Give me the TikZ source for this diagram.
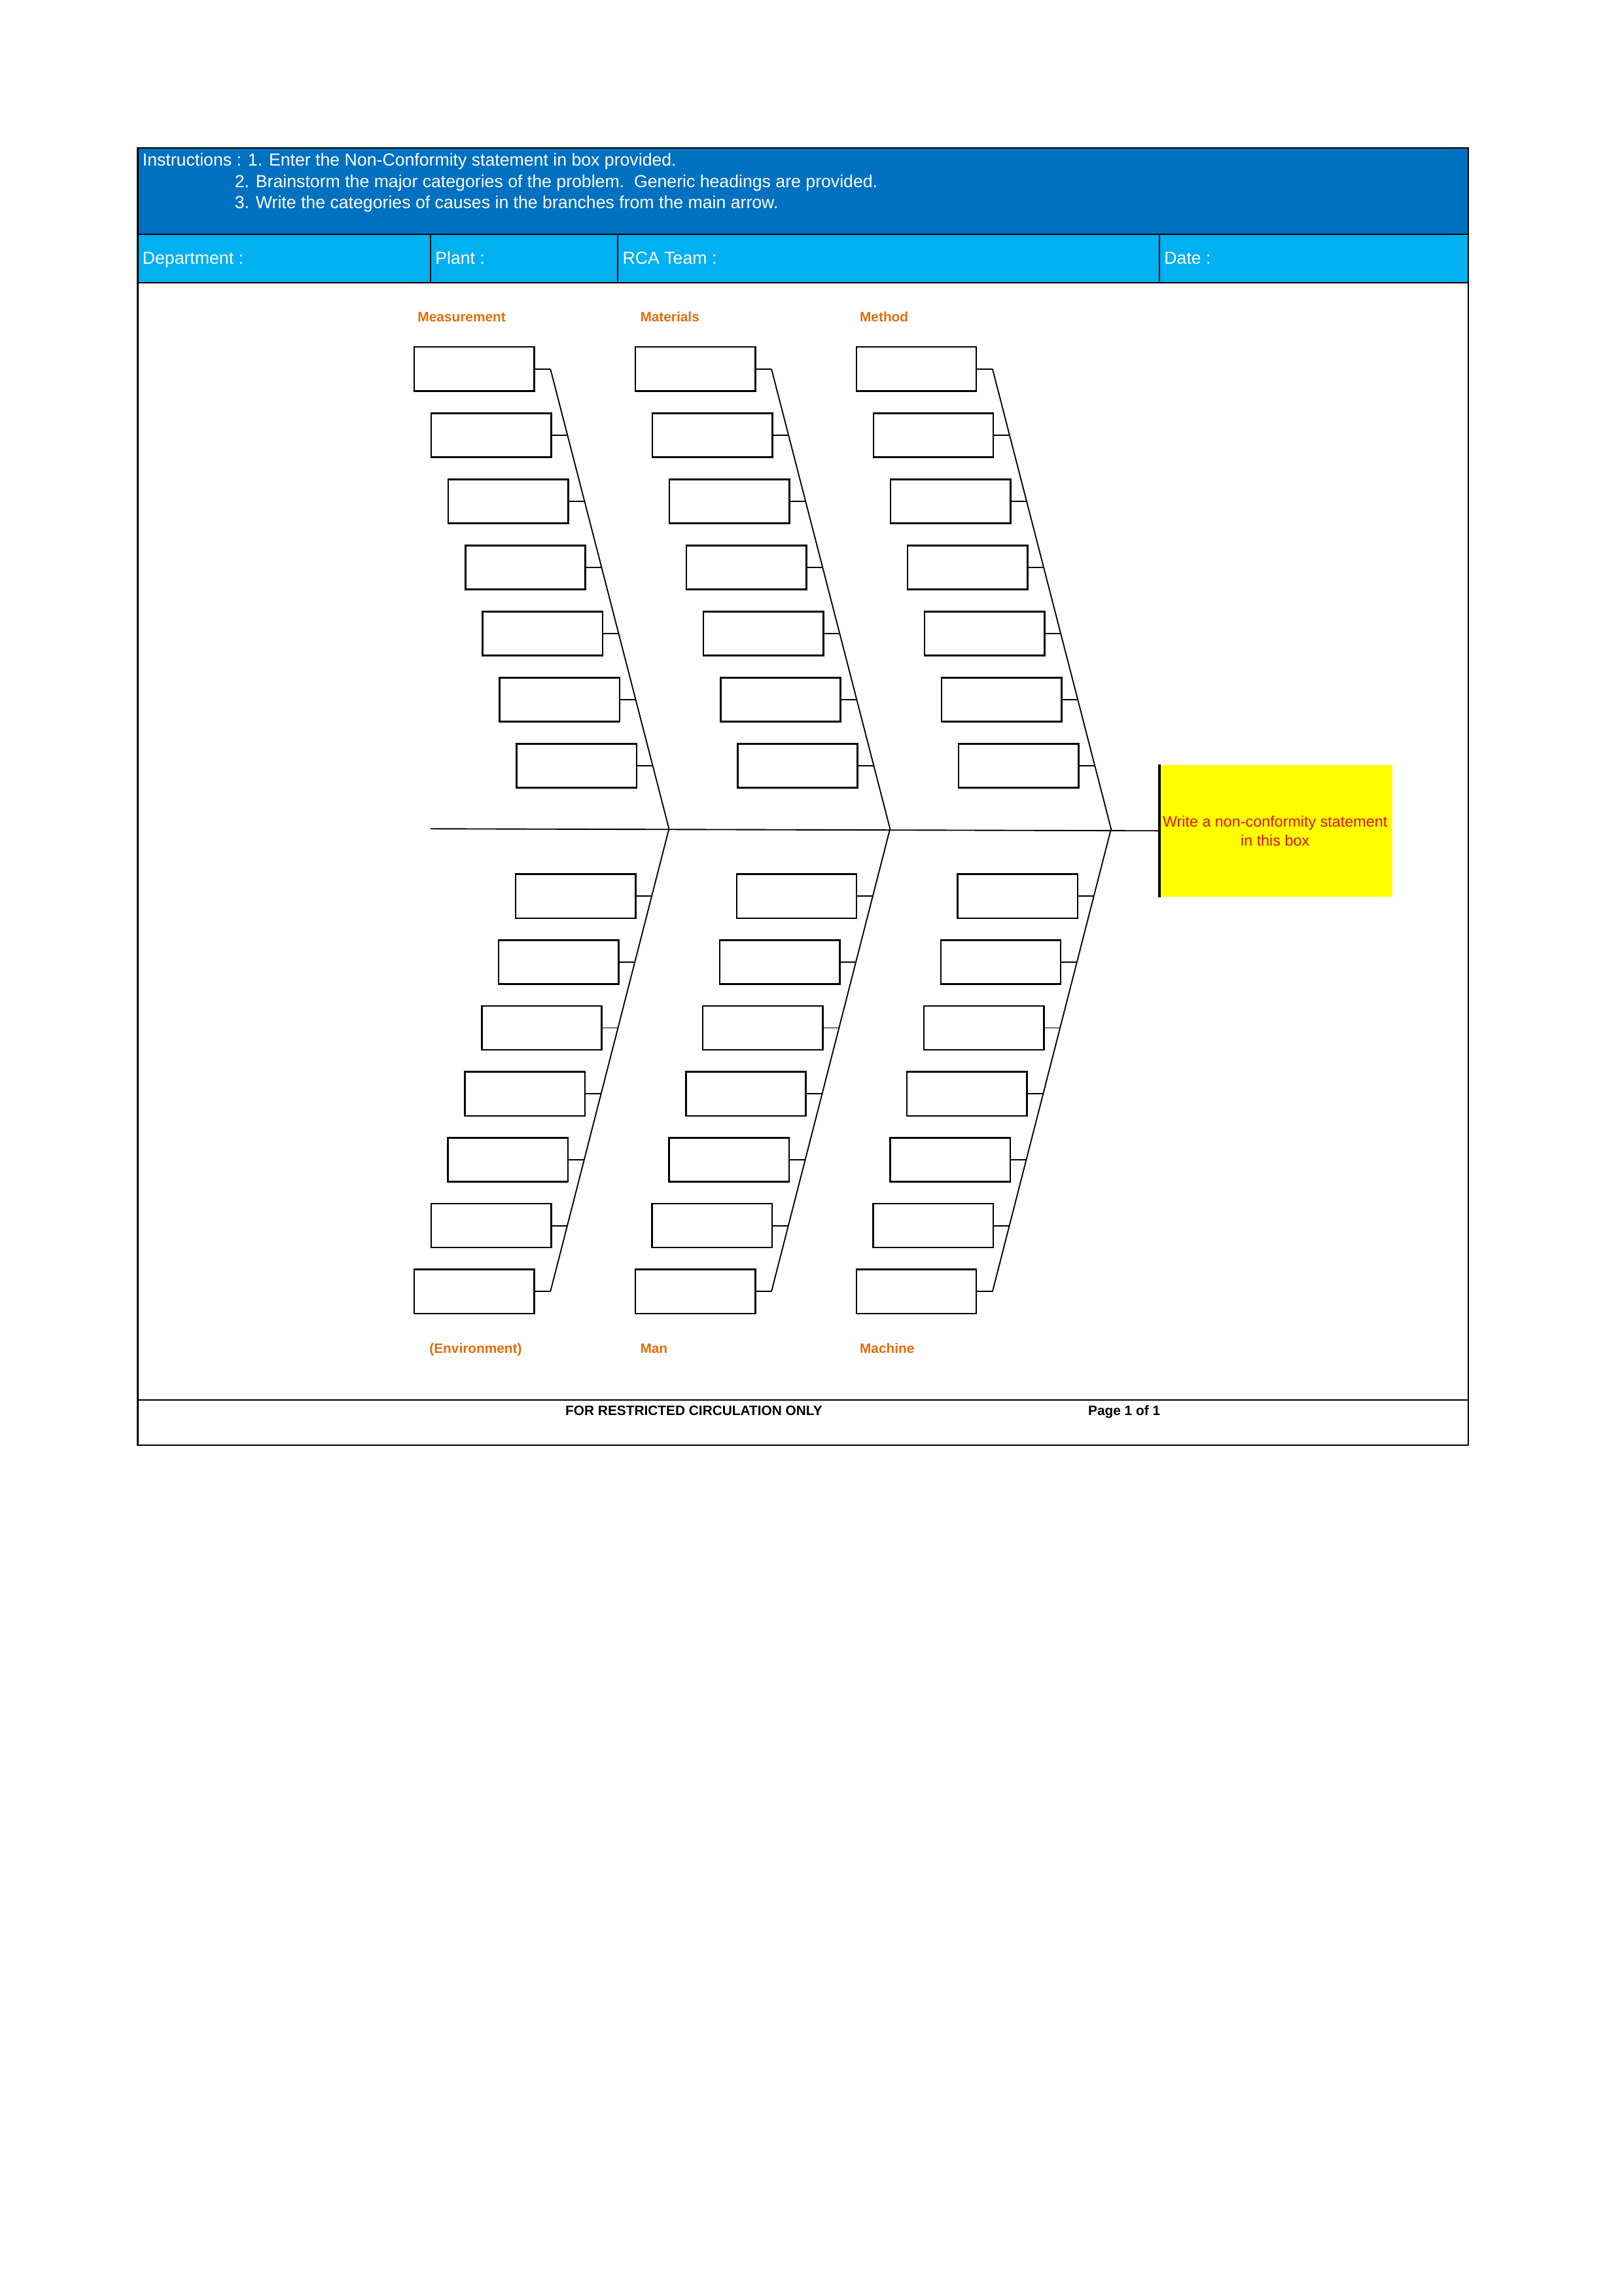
\documentclass[tikz,border=0pt]{standalone}
\usepackage{fontspec}
\setmainfont{Liberation Sans}
\usetikzlibrary{calc}
\definecolor{hdrblue}{HTML}{0070C0}
\definecolor{rowblue}{HTML}{00B0F0}
\definecolor{lblorange}{HTML}{E46C0A}
\definecolor{stmtred}{HTML}{E0140A}
\definecolor{stmtyellow}{HTML}{FFFF00}
\begin{document}
\begin{tikzpicture}[x=0.5368pt,y=-0.5368pt,
  frame/.style={line width=0.6pt,draw=black},
  bone/.style={line width=0.45pt,draw=black},
  cbox/.style={draw=black,line width=0.6pt,minimum width=44pt,minimum height=16.1pt,inner sep=0pt},
  hdrtext/.style={anchor=base west,inner sep=0pt,text=white,font=\fontsize{6.4}{7.8}\selectfont},
  cattext/.style={anchor=base west,inner sep=0pt,text=lblorange,font=\fontsize{5}{6}\selectfont\bfseries},
  foottext/.style={anchor=base,inner sep=0pt,text=black,font=\fontsize{5}{6}\selectfont\bfseries}]
\useasboundingbox (0,0) rectangle (1109,1568);
% header fills
\fill[hdrblue] (94,101) rectangle (1003,160);
\fill[rowblue] (94,160) rectangle (1003,193);
% frame and rules
\draw[frame] (94,101) rectangle (1003,987);
\draw[frame] (94,160) -- (1003,160);
\draw[frame] (94,193) -- (1003,193);
\draw[frame] (94,956) -- (1003,956);
\draw[frame] (294,160) -- (294,193);
\draw[frame] (422,160) -- (422,193);
\draw[frame] (792,160) -- (792,193);
% header texts
\node[hdrtext] (ins1) at (97,113.5) {Instructions : 1. Enter the Non-Conformity statement in box provided.};
\node[hdrtext] (ins2) at (160,128) {2. Brainstorm the major categories of the problem.\ \ Generic headings are provided.};
\node[hdrtext] (ins3) at (160,142.5) {3. Write the categories of causes in the branches from the main arrow.};
\node[hdrtext] (dept) at (97,180.5) {Department :};
\node[hdrtext] (plant) at (297,180.5) {Plant :};
\node[hdrtext] (team) at (425,180.5) {RCA Team :};
\node[hdrtext] (date) at (795,180.5) {Date :};
% statement box
\node[fill=stmtyellow,minimum width=85.35pt,minimum height=48.3pt,inner sep=0pt,anchor=north west] (yb) at (792,522) {};
\draw[line width=0.8pt] (yb.north west) -- (yb.south west);
\node[align=center,text=stmtred,font=\fontsize{5.6}{7}\selectfont,inner sep=0pt] (stmt) at (871,567.5) {Write a non-conformity statement\\in this box};
% spine
\coordinate (spinestart) at (294,566);
\draw[bone] (spinestart) -- (yb.west);
% bones
\foreach \k/\dx in {0/0,1/151,2/302} {
  \coordinate (T\k) at (376+\dx,252);
  \coordinate (V\k) at (457+\dx,566);
  \coordinate (B\k) at (376+\dx,882);
  \draw[bone] (T\k) -- (V\k) -- (B\k);
  \foreach \i in {0,...,6} {
    \pgfmathsetmacro{\ta}{45.17*\i/314}
    \pgfmathsetmacro{\tb}{(46+45*\i)/316}
    \coordinate (tp\k\i) at ($(T\k)!\ta!(V\k)$);
    \node[cbox,anchor=east] (tb\k\i) at ($(tp\k\i)+(-10.5,0)$) {};
    \draw[bone] (tb\k\i.east) -- (tp\k\i);
    \coordinate (bp\k\i) at ($(V\k)!\tb!(B\k)$);
    \node[cbox,anchor=east] (bb\k\i) at ($(bp\k\i)+(-10.5,0)$) {};
    \draw[bone] (bb\k\i.east) -- (bp\k\i);
  }
}
% category labels
\node[cattext] (lmeas) at (285,219.5) {Measurement};
\node[cattext] (lmat) at (437,219.5) {Materials};
\node[cattext] (lmeth) at (587,219.5) {Method};
\node[cattext] (lenv) at (293,924) {(Environment)};
\node[cattext] (lman) at (437,924) {Man};
\node[cattext] (lmach) at (587,924) {Machine};
% footer
\node[foottext] (restr) at (474,966.5) {FOR RESTRICTED CIRCULATION ONLY};
\node[foottext,anchor=base west] (page) at (743,966.5) {Page 1 of 1};
\end{tikzpicture}
\end{document}
